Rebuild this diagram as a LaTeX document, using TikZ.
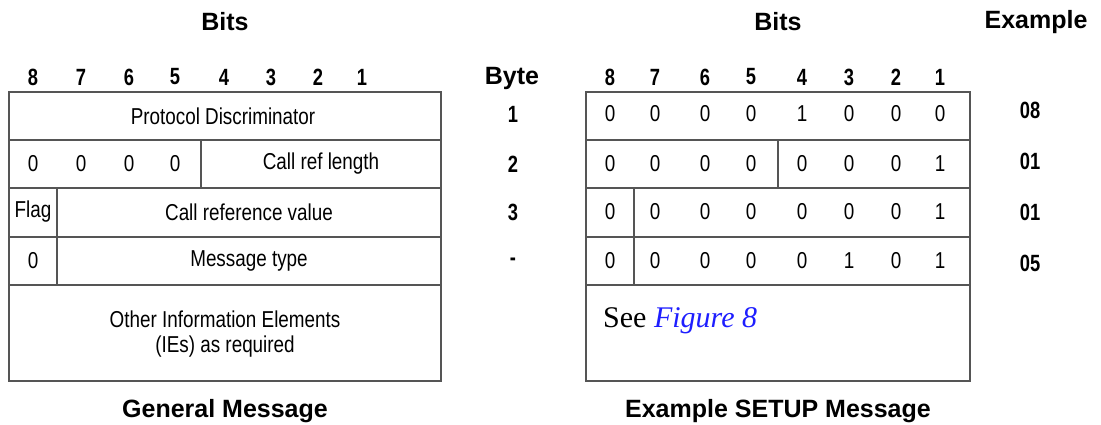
\documentclass[tikz,border=0pt]{standalone}
\usepackage{fontspec}
\setmainfont{Liberation Sans}
\newfontfamily\condf[FakeStretch=0.82]{Liberation Sans}
\newfontfamily\condb[FakeStretch=0.78]{Liberation Sans}
\newfontfamily\serf{Liberation Serif}
\definecolor{lin}{RGB}{85,85,85}
\definecolor{figblue}{RGB}{30,30,255}
\begin{document}
\begin{tikzpicture}[x=1pt,y=-1pt,
  ttl/.style={font=\fontsize{25}{29}\selectfont\bfseries, inner sep=0pt},
  bitnum/.style={font=\condb\fontsize{23.5}{26}\selectfont\bfseries, inner sep=0pt},
  txt/.style={font=\condf\fontsize{23}{27}\selectfont, inner sep=0pt},
  bytenum/.style={font=\condb\fontsize{23.5}{26}\selectfont\bfseries, inner sep=0pt},
  grid/.style={draw=lin, line width=1.1pt}]
\useasboundingbox (0,0) rectangle (1101,425);
% ---------- titles ----------
\node[ttl] (bitsL) at (225,22) {Bits};
\node[ttl] (bitsR) at (778,22) {Bits};
\node[ttl] (exh) at (1036,22) {Example};
\node[ttl] (byteh) at (512,78) {Byte};
\node[ttl] (genmsg) at (225,411) {General Message};
\node[ttl] (setmsg) at (778,411) {Example SETUP Message};
% ---------- left table ----------
\draw[grid] (9,92) rectangle (441,381);
\draw[grid] (9,140) -- (441,140);
\draw[grid] (9,188) -- (441,188);
\draw[grid] (9,237) -- (441,237);
\draw[grid] (9,285) -- (441,285);
\draw[grid] (201,140) -- (201,188);
\draw[grid] (57,188) -- (57,285);
\foreach \b/\x in {8/33,7/81,6/129,5/175,4/224,3/271,2/318,1/362}
  \node[bitnum] (lb\b) at (\x,77) {\b};
\node[txt] (pd) at (223,116) {Protocol Discriminator};
\foreach \b/\x in {8/33,7/81,6/129,5/175}
  \node[txt] (lz\b) at (\x,164) {0};
\node[txt] (crl) at (321,164) {Call ref length};
\node[txt] (flag) at (33,212) {Flag};
\node[txt] (crv) at (249,212) {Call reference value};
\node[txt] (mz) at (33,261) {0};
\node[txt] (mt) at (249,261) {Message type};
\node[txt] (oie1) at (225,319) {Other Information Elements};
\node[txt] (oie2) at (225,347) {(IEs) as required};
% ---------- byte column ----------
\node[bytenum] (by1) at (513,114) {1};
\node[bytenum] (by2) at (513,164) {2};
\node[bytenum] (by3) at (513,212) {3};
\node[bytenum] (by4) at (513,262) {-};
% ---------- right table ----------
\draw[grid] (586,92) rectangle (970,381);
\draw[grid] (586,140) -- (970,140);
\draw[grid] (586,188) -- (970,188);
\draw[grid] (586,237) -- (970,237);
\draw[grid] (586,285) -- (970,285);
\draw[grid] (778,140) -- (778,188);
\draw[grid] (634,188) -- (634,285);
\foreach \b/\x in {8/610,7/655,6/705,5/751,4/802,3/849,2/896,1/940}
  \node[bitnum] (rb\b) at (\x,77) {\b};
\foreach \r/\y/\vals in {1/114/{0,0,0,0,1,0,0,0},2/164/{0,0,0,0,0,0,0,1},3/212/{0,0,0,0,0,0,0,1},4/261/{0,0,0,0,0,1,0,1}}{
  \foreach \v [count=\c] in \vals {
    \pgfmathsetmacro{\xx}{{610,655,705,751,802,849,896,940}[\c-1]}
    \node[txt] (v\r-\c) at (\xx,\y) {\v};
  }
}
\node[anchor=west, inner sep=0pt, font=\serf\fontsize{30}{34}\selectfont] (see) at (603,321)
  {See \textcolor{figblue}{\itshape Figure 8}};
% ---------- example column ----------
\node[bytenum] (ex1) at (1030,110) {08};
\node[bytenum] (ex2) at (1030,161) {01};
\node[bytenum] (ex3) at (1030,212) {01};
\node[bytenum] (ex4) at (1030,263) {05};
\end{tikzpicture}
\end{document}
